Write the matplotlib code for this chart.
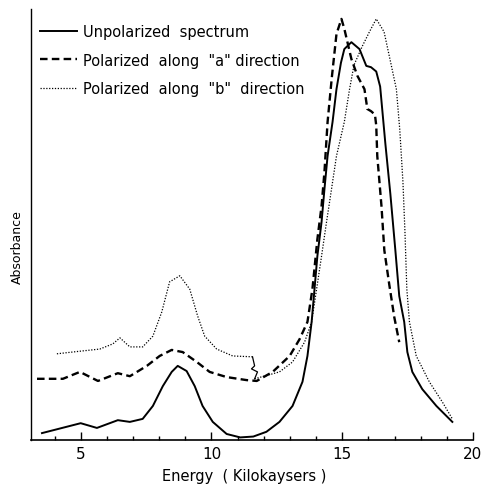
import matplotlib
matplotlib.use('Agg')
import matplotlib.pyplot as plt

# energy in kilokaysers, absorbance in arbitrary units
e_unpol = [3.52, 5.0, 5.62, 6.42, 6.88, 7.37, 7.76, 8.14, 8.48, 8.71, 9.05, 9.36, 9.66, 10.05,
           10.58, 11.1, 11.6, 12.1, 12.6, 13.1, 13.48, 13.67, 13.83, 13.94, 14.05, 14.21, 14.32,
           14.44, 14.63, 14.78, 14.95, 15.08, 15.35, 15.66, 15.92, 16.1, 16.3, 16.45, 16.65,
           16.84, 17.03, 17.18, 17.37, 17.49, 17.68, 18.06, 18.6, 19.21]
a_unpol = [0.016, 0.039, 0.028, 0.046, 0.042, 0.049, 0.079, 0.125, 0.158, 0.172, 0.16, 0.125,
           0.079, 0.042, 0.014, 0.006, 0.008, 0.019, 0.042, 0.079, 0.135, 0.195, 0.274, 0.35,
           0.427, 0.506, 0.582, 0.659, 0.738, 0.814, 0.875, 0.907, 0.923, 0.907, 0.868, 0.865,
           0.855, 0.82, 0.687, 0.571, 0.441, 0.334, 0.274, 0.204, 0.158, 0.118, 0.079, 0.042]

e_pol_a = [3.33, 4.32, 4.97, 5.66, 6.42, 6.88, 7.53, 8.02, 8.48, 8.9, 9.44, 9.93, 10.58, 11.34,
           11.73, 12.34, 12.99, 13.37, 13.67, 13.86, 14.05, 14.21, 14.32, 14.44, 14.6, 14.78,
           14.97, 15.08, 15.35, 15.58, 15.85, 15.96, 16.1, 16.25, 16.3, 16.34, 16.5, 16.61,
           16.8, 16.99, 17.18]
a_pol_a = [0.142, 0.142, 0.158, 0.137, 0.155, 0.148, 0.172, 0.195, 0.209, 0.204, 0.181, 0.158,
           0.146, 0.139, 0.137, 0.158, 0.195, 0.234, 0.274, 0.35, 0.466, 0.543, 0.622, 0.738,
           0.84, 0.942, 0.977, 0.954, 0.884, 0.845, 0.814, 0.768, 0.763, 0.755, 0.73, 0.659,
           0.543, 0.44, 0.36, 0.285, 0.227]

# "b" spectrum: low-energy part drawn displaced upward, then the main band
e_pol_b1 = [4.09, 4.97, 5.73, 6.23, 6.5, 6.88, 7.37, 7.76, 8.1, 8.4, 8.79, 9.17, 9.47, 9.74,
            10.2, 10.81, 11.57]
a_pol_b1 = [0.2, 0.206, 0.211, 0.223, 0.237, 0.216, 0.216, 0.241, 0.297, 0.367, 0.381, 0.35,
            0.288, 0.241, 0.211, 0.195, 0.193]
e_pol_b2 = [11.65, 12.6, 13.1, 13.56, 13.83, 14.02, 14.21, 14.4, 14.59, 14.78, 15.08, 15.28,
            15.45, 15.77, 16.04, 16.3, 16.6, 16.88, 17.07, 17.2, 17.32, 17.4, 17.47, 17.57,
            17.83, 18.33, 18.83, 19.21]
a_pol_b2 = [0.142, 0.158, 0.181, 0.227, 0.274, 0.35, 0.427, 0.506, 0.582, 0.659, 0.738, 0.814,
            0.87, 0.914, 0.947, 0.977, 0.947, 0.868, 0.814, 0.72, 0.6, 0.48, 0.35, 0.274,
            0.195, 0.135, 0.088, 0.049]
# break mark joining the two parts
e_break = [11.57, 11.65, 11.53, 11.76, 11.65]
a_break = [0.193, 0.172, 0.165, 0.158, 0.142]

labels = ['Unpolarized  spectrum', 'Polarized  along  "a" direction',
          'Polarized  along  "b"  direction']

fig = plt.figure(figsize=(4.85, 4.85), dpi=100)
ax = fig.add_axes([31/485, 44/485, 442/485, 431/485])

ax.plot(e_unpol, a_unpol, color='k', lw=1.4, label=labels[0])
ax.plot(e_pol_a, a_pol_a, color='k', lw=1.7, linestyle=(0, (3.2, 1.8)), label=labels[1])
ax.plot(e_pol_b1, a_pol_b1, color='k', lw=0.9, linestyle=(0, (1, 1.3)), label=labels[2])
ax.plot(e_pol_b2, a_pol_b2, color='k', lw=0.9, linestyle=(0, (1, 1.3)))
ax.plot(e_break, a_break, color='k', lw=0.9)

ax.set_xlim(3.1, 20.0)
ax.set_ylim(0, 1.0)
ax.set_xticks([5, 10, 15, 20])
ax.set_xticks(range(4, 20), minor=True)
ax.set_yticks([])
ax.tick_params(axis='x', which='major', direction='in', length=6, width=1, pad=4, labelsize=11)
ax.tick_params(axis='x', which='minor', direction='in', length=3, width=1)
ax.spines['top'].set_visible(False)
ax.spines['right'].set_visible(False)
ax.spines['left'].set_linewidth(1)
ax.spines['bottom'].set_linewidth(1.2)

ax.set_xlabel('Energy  ( Kilokaysers )', fontsize=10.5)
ax.xaxis.set_label_coords(0.482, -0.066)
ax.set_ylabel('Absorbance', fontsize=9)
ax.yaxis.set_label_coords(-0.016, 0.45)

ax.legend(loc='upper left', bbox_to_anchor=(0.02, 0.965), frameon=False, fontsize=10.5,
          handlelength=2.55, handletextpad=0.4, labelspacing=0.92,
          borderpad=0, borderaxespad=0)

plt.savefig('out.png', dpi=100)
